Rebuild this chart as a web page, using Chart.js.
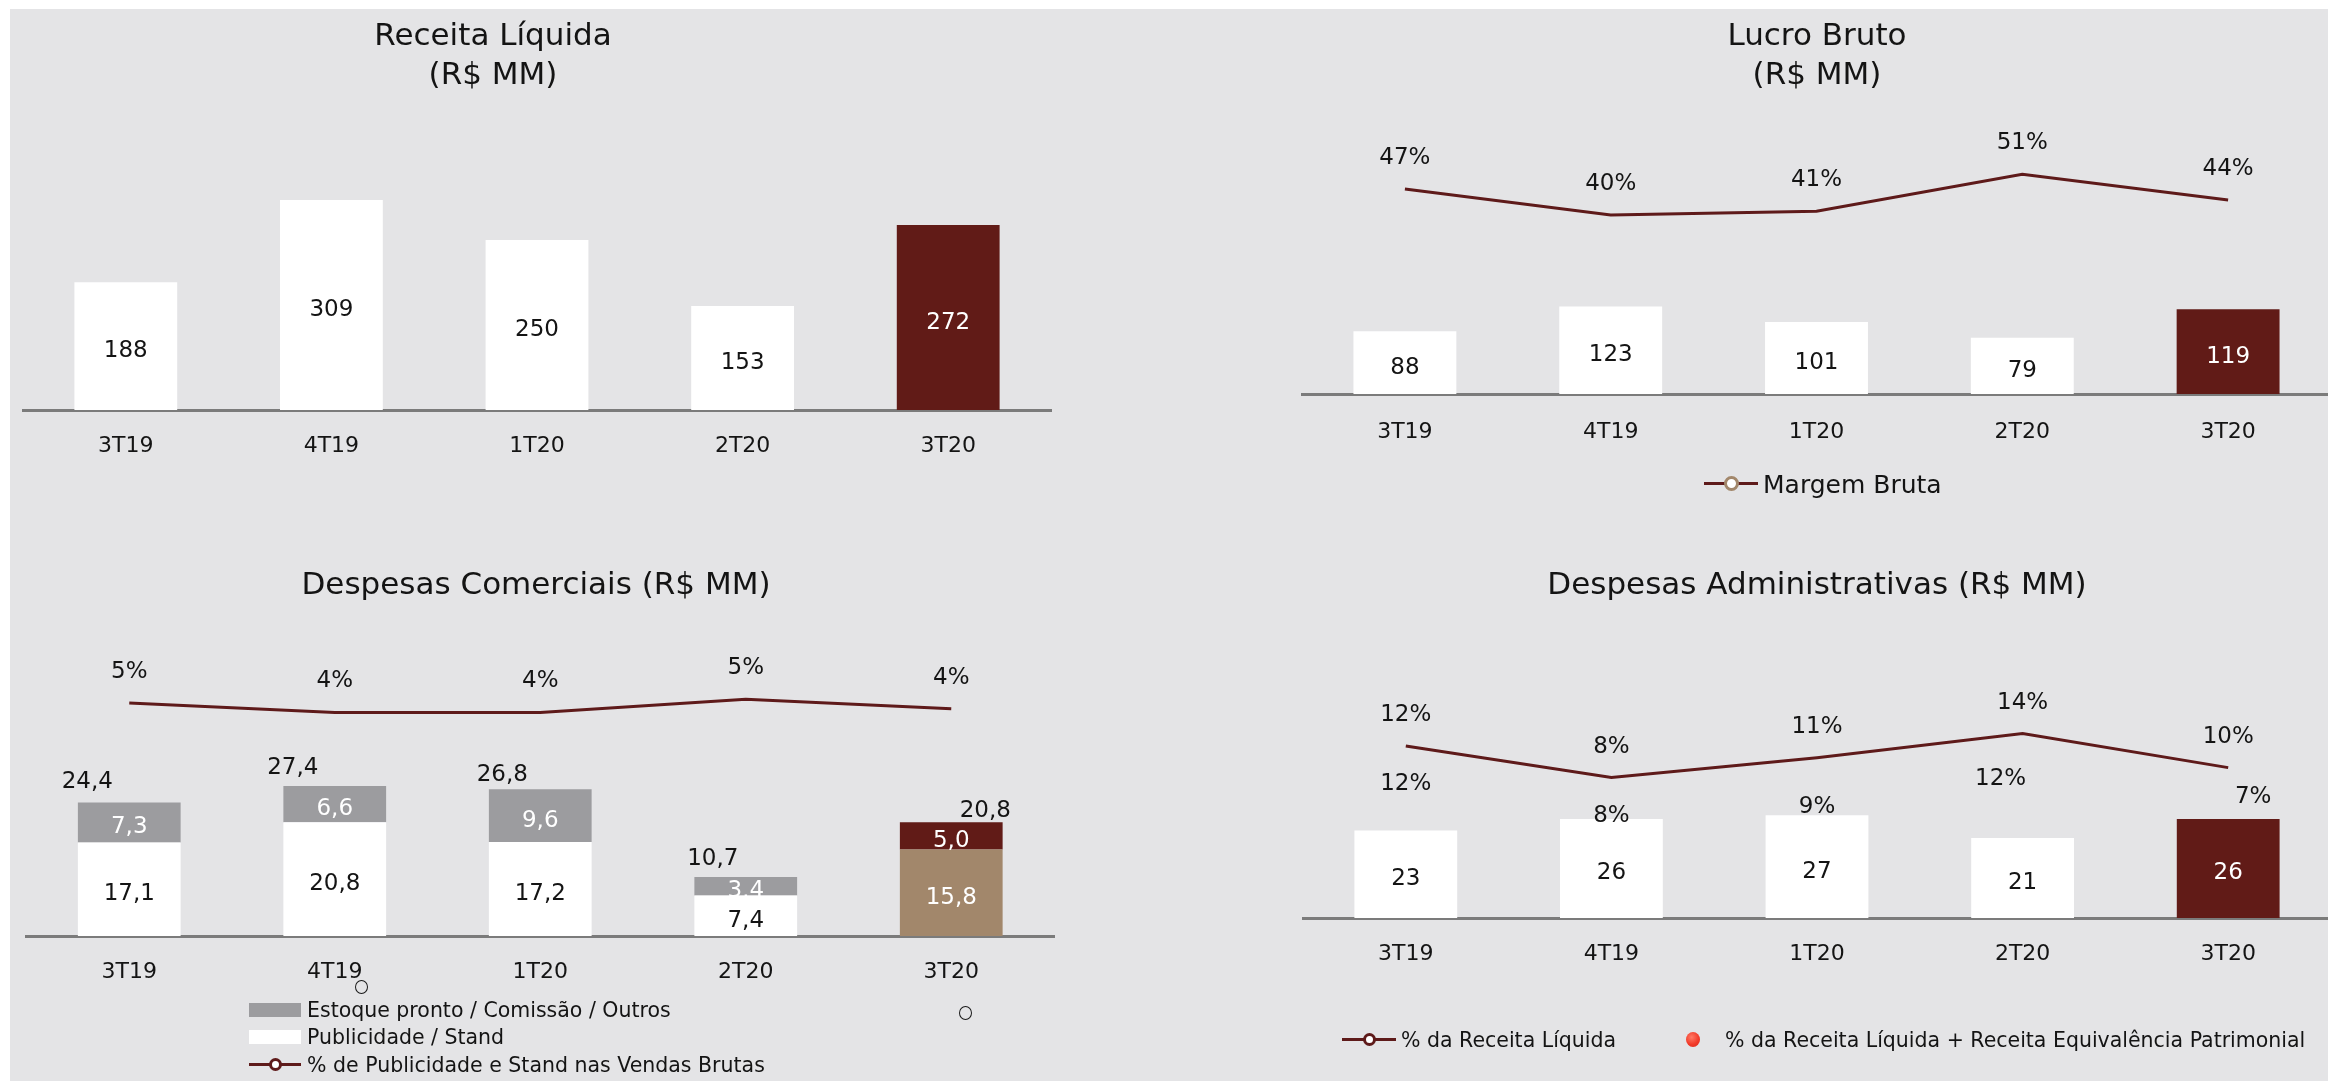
<!DOCTYPE html>
<html><head><meta charset="utf-8">
<script src="https://cdn.jsdelivr.net/npm/chart.js@4.4.1/dist/chart.umd.min.js"></script>
<style>
html,body{margin:0;padding:0;width:2328px;height:1081px;overflow:hidden;background:#fff;font-family:"DejaVu Sans",sans-serif;color:#141414}
#bg{position:absolute;left:10px;top:9px;width:2318px;height:1072px;background:#e4e4e6}
canvas{position:absolute;left:0;top:0}
.t{position:absolute;white-space:nowrap;line-height:1}
.box{position:absolute}
</style></head><body>
<div id="bg"></div>
<canvas id="cRec" width="2340" height="1081"></canvas>
<canvas id="cLuc" width="2340" height="1081"></canvas>
<canvas id="cCom" width="2340" height="1081"></canvas>
<canvas id="cAdm" width="2340" height="1081"></canvas>
<script>
// ---------- data ----------
const quarters = ['3T19', '4T19', '1T20', '2T20', '3T20'];
const receitaLiquida = [188, 309, 250, 153, 272];
const lucroBruto = [88, 123, 101, 79, 119];
const margemBruta = [47, 40, 41, 51, 44];
const comPublicidade = [17.1, 20.8, 17.2, 7.4, 15.8];
const comEstoque = [7.3, 6.6, 9.6, 3.4, 5.0];
const comTotal = [24.4, 27.4, 26.8, 10.7, 20.8];
const comPctVendas = [4.7, 4.2, 4.2, 4.9, 4.4];
const despAdm = [23, 26, 27, 21, 26];
const admPctReceita = [12.2, 8.4, 10.8, 13.7, 9.6];
const admPctReceitaEq = [11.8, 8.0, 9.1, 12.4, 7.2];

const titles = {
  rec: ['Receita Líquida', '(R$ MM)'],
  luc: ['Lucro Bruto', '(R$ MM)'],
  com: ['Despesas Comerciais (R$ MM)'],
  adm: ['Despesas Administrativas (R$ MM)']
};
const seriesNames = {
  margem: 'Margem Bruta',
  estoque: 'Estoque pronto / Comissão / Outros',
  publicidade: 'Publicidade / Stand',
  pctPub: '% de Publicidade e Stand nas Vendas Brutas',
  pctRec: '% da Receita Líquida',
  pctRecEq: '% da Receita Líquida + Receita Equivalência Patrimonial'
};

// ---------- style ----------
const FONT = '"DejaVu Sans", sans-serif';
const WHITE = '#ffffff', DARK = '#611b17', GREY = '#9c9c9f', TAN = '#a2876b', LINE = '#5e1a1a', TXT = '#141414';
const W = 2340, H = 1081;
const hl = (a, b) => quarters.map((_, i) => i === quarters.length - 1 ? b : a);
const fmtInt = v => String(Math.round(v));
const fmtDec = v => v.toFixed(1).replace('.', ',');
const fmtPct = v => Math.round(v) + '%';

Chart.defaults.font.family = FONT;
Chart.defaults.color = TXT;

const labelPlugin = {
  id: 'valueLabels',
  afterDatasetsDraw(chart) {
    const ctx = chart.ctx;
    chart.data.datasets.forEach((ds, di) => {
      const L = ds.valueLabels;
      if (!L) return;
      const meta = chart.getDatasetMeta(di);
      meta.data.forEach((el, i) => {
        const v = ds.data[i];
        const pick = (p, d) => p === undefined ? d : (Array.isArray(p) ? p[i] : p);
        let x = el.x;
        let y = L.pos === 'center' ? (el.y + el.base) / 2 + 5 : el.y + 2;
        x += pick(L.dx, 0);
        y += pick(L.dy, 0);
        ctx.save();
        ctx.font = pick(L.size, 23) + 'px ' + FONT;
        ctx.fillStyle = pick(L.color, TXT);
        ctx.textAlign = 'center';
        ctx.textBaseline = 'middle';
        ctx.fillText(L.format(v), x, y);
        ctx.restore();
      });
    });
  }
};

function makeChart(id, area, datasets, y, y2) {
  const scales = {
    x: {
      stacked: !!y.stacked,
      grid: { display: false, drawTicks: false },
      border: { display: true, color: '#7b7b7b', width: 3 },
      ticks: { font: { size: 22, family: FONT }, color: TXT, padding: area.tickPad },
      afterFit(s) { s.height = H - area.bottom; }
    },
    y: { display: false, min: 0, max: y.max, stacked: !!y.stacked }
  };
  if (y2) scales.y2 = { display: false, min: y2.min, max: y2.max };
  return new Chart(document.getElementById(id), {
    type: 'bar',
    data: { labels: quarters, datasets },
    options: {
      responsive: false, animation: false, devicePixelRatio: 1,
      layout: { padding: { left: area.left, right: W - area.right, top: area.top, bottom: 0 } },
      plugins: { legend: { display: false }, tooltip: { enabled: false }, title: { display: false } },
      scales
    },
    plugins: [labelPlugin]
  });
}

const barBase = { borderWidth: 0, categoryPercentage: 1, barPercentage: 0.5, order: 2 };
const lineBase = { type: 'line', yAxisID: 'y2', borderColor: LINE, borderWidth: 3, pointRadius: 0, tension: 0, fill: false, order: 1 };

// Receita Líquida
makeChart('cRec', { left: 23, right: 1051, top: 100, bottom: 410, tickPad: 23 }, [
  Object.assign({}, barBase, { label: 'Receita Líquida', data: receitaLiquida, backgroundColor: hl(WHITE, DARK),
    valueLabels: { pos: 'center', format: fmtInt, color: hl(TXT, WHITE) } })
], { max: 456 });

// Lucro Bruto
makeChart('cLuc', { left: 1302, right: 2331, top: 100, bottom: 394, tickPad: 25 }, [
  Object.assign({}, lineBase, { label: seriesNames.margem, data: margemBruta,
    valueLabels: { pos: 'point', dy: -33, format: fmtPct } }),
  Object.assign({}, barBase, { label: 'Lucro Bruto', data: lucroBruto, backgroundColor: hl(WHITE, DARK),
    valueLabels: { pos: 'center', format: fmtInt, color: hl(TXT, WHITE) } })
], { max: 413 }, { min: -8.3, max: 71 });

// Despesas Comerciais
makeChart('cCom', { left: 26.5, right: 1054, top: 640, bottom: 936, tickPad: 23 }, [
  Object.assign({}, lineBase, { label: seriesNames.pctPub, data: comPctVendas,
    valueLabels: { pos: 'point', dy: -33, format: fmtPct } }),
  Object.assign({}, barBase, { label: seriesNames.publicidade, data: comPublicidade, backgroundColor: hl(WHITE, TAN),
    valueLabels: { pos: 'center', format: fmtDec, color: hl(TXT, WHITE) } }),
  Object.assign({}, barBase, { label: seriesNames.estoque, data: comEstoque, backgroundColor: hl(GREY, DARK),
    valueLabels: { pos: 'center', format: fmtDec, color: WHITE } }),
  { type: 'line', label: 'Total', data: comTotal, yAxisID: 'y', showLine: false, pointRadius: 0, order: 0,
    valueLabels: { pos: 'point', dx: [-42, -42, -38, -33, 34], dy: [-22, -20, -16, -20, -13], format: fmtDec } }
], { max: 54.1, stacked: true }, { min: -7.54, max: 8.01 });

// Despesas Administrativas
makeChart('cAdm', { left: 1303, right: 2331, top: 640, bottom: 918, tickPad: 23 }, [
  Object.assign({}, lineBase, { label: seriesNames.pctRec, data: admPctReceita,
    valueLabels: { pos: 'point', dy: -33, format: fmtPct } }),
  { type: 'line', label: seriesNames.pctRecEq, data: admPctReceitaEq, yAxisID: 'y2', showLine: false, pointRadius: 0, order: 0,
    valueLabels: { pos: 'point', dx: [0, 0, 0, -22, 25], dy: [33, 33, 33, 33, 7], format: fmtPct } },
  Object.assign({}, barBase, { label: 'Despesas Administrativas', data: despAdm, backgroundColor: hl(WHITE, DARK),
    valueLabels: { pos: 'center', format: fmtInt, color: hl(TXT, WHITE) } })
], { max: 73 }, { min: -8.52, max: 24.98 });

// ---------- text & legends (HTML) ----------
function text(str, x, baseline, size, align) {
  const d = document.createElement('div');
  d.className = 't';
  d.textContent = str;
  d.style.fontSize = size + 'px';
  d.style.top = (baseline - 0.846 * size) + 'px';
  if (align === 'center') { d.style.left = x + 'px'; d.style.transform = 'translateX(-50%)'; }
  else d.style.left = x + 'px';
  document.body.appendChild(d);
  return d;
}
function box(x, y, w, h, css) {
  const d = document.createElement('div');
  d.className = 'box';
  d.style.left = x + 'px'; d.style.top = y + 'px'; d.style.width = w + 'px'; d.style.height = h + 'px';
  Object.assign(d.style, css || {});
  document.body.appendChild(d);
  return d;
}
function lineMarker(x1, x2, cy, d, ring) {
  box(x1, cy - 1.5, x2 - x1, 3, { background: LINE });
  const cx = (x1 + x2) / 2;
  box(cx - d / 2, cy - d / 2, d, d, { background: '#fff', border: '3px solid ' + ring, borderRadius: '50%', boxSizing: 'border-box' });
}

text(titles.rec[0], 493, 45, 31, 'center');
text(titles.rec[1], 493, 84, 31, 'center');
text(titles.luc[0], 1817, 45, 31, 'center');
text(titles.luc[1], 1817, 84, 31, 'center');
text(titles.com[0], 536, 594, 31, 'center');
text(titles.adm[0], 1817, 594, 31, 'center');

// Lucro Bruto legend
lineMarker(1704, 1758, 483, 15, TAN);
text(seriesNames.margem, 1763, 493, 25);

// Despesas Comerciais legend
box(249, 1003, 52, 14, { background: GREY });
text(seriesNames.estoque, 307, 1017, 20.5);
box(249, 1030, 52, 14, { background: WHITE });
text(seriesNames.publicidade, 307, 1044, 20.5);
lineMarker(249, 301, 1064, 13, LINE);
text(seriesNames.pctPub, 307, 1072, 20.5);
// stray empty markers
box(355, 980, 13, 14, { border: '1.6px solid #1a1a1a', borderRadius: '50%', boxSizing: 'border-box' });
box(959, 1006, 13, 14, { border: '1.6px solid #1a1a1a', borderRadius: '50%', boxSizing: 'border-box' });

// Despesas Administrativas legend
lineMarker(1342, 1396, 1039, 13, LINE);
text(seriesNames.pctRec, 1401, 1047, 20.5);
box(1686, 1032, 14, 15, { borderRadius: '50%', background: 'radial-gradient(circle at 40% 35%, #ff7a66 0%, #f23b2a 55%, #d92a1c 100%)' });
text(seriesNames.pctRecEq, 1725, 1047, 20.5);
</script>
</body></html>
